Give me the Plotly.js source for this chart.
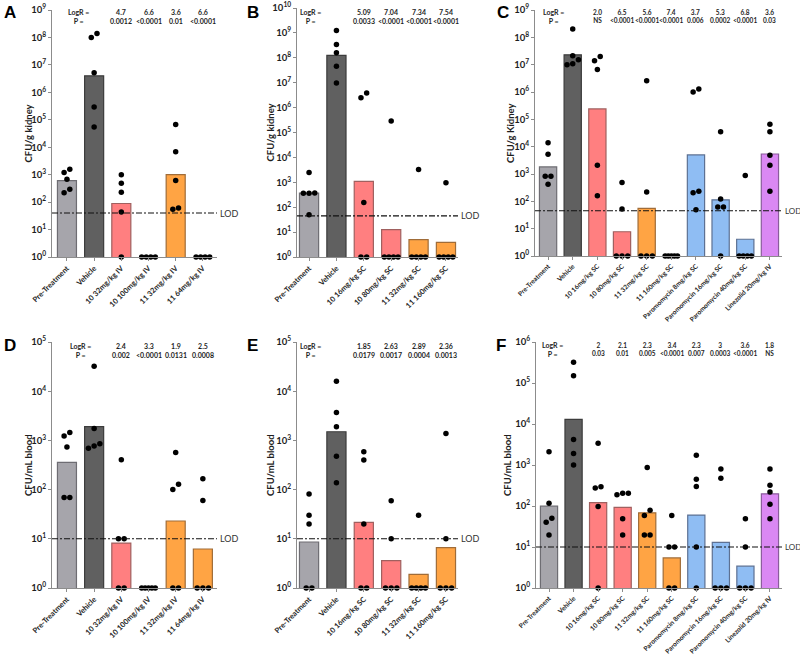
<!DOCTYPE html>
<html><head><meta charset="utf-8">
<script src="https://cdn.plot.ly/plotly-3.0.1.min.js"></script>
<style>html,body{margin:0;padding:0;background:#fff}#chart{width:800px;height:660px}</style>
</head><body><div id="chart"></div>
<script>
// ---------- DATA ----------
const catsA = ['Pre-Treatment','Vehicle','10 32mg/kg IV','10 100mg/kg IV','11 32mg/kg IV','11 64mg/kg IV'];
const barsA = [610, 4.0e6, 89, 1, 1000, 1];
const ptsA = [[1200,1580,680,220,295],[1.4e8,1.0e8,5.2e6,2.9e5,5.5e4],[1000,490,230,44,1],[1,1,1,1],[6.7e4,6800,610,55,61],[1,1,1,1]];
const logRA = ['','','4.7','6.6','3.6','6.6'];
const pA = ['','','0.0012','<0.0001','0.01','<0.0001'];
const lodA = 40;

const catsB = ['Pre-Treatment','Vehicle','10 16mg/kg SC','10 80mg/kg SC','11 32mg/kg SC','11 160mg/kg SC'];
const barsB = [365, 1.25e8, 1090, 12.5, 5.0, 3.9];
const ptsB = [[2500,360,365,370,50],[1.26e9,3.4e8,1.6e8,4.6e7,9.8e6],[3.9e6,2.5e6,155,1,1],[2.9e5,1,1,1,1],[3300,1,1,1,1],[950,1,1,1,1]];
const logRB = ['','','5.09','7.04','7.34','7.54'];
const pB = ['','','0.0033','<0.0001','<0.0001','<0.0001'];
const lodB = 45;

const catsC = ['Pre-Treatment','Vehicle','10 16mg/kg SC','10 80mg/kg SC','11 32mg/kg SC','11 160mg/kg SC','Paromomycin 8mg/kg SC','Paromomycin 16mg/kg SC','Paromomycin 40mg/kg SC','Linezolid 20mg/kg IV'];
const barsC = [1820, 2.3e7, 2.4e5, 7.7, 55, 1, 5000, 114, 4.1, 5400];
const ptsC = [[1.4e4,5300,830,830,425],[2.0e8,2.1e7,1.5e7,1.07e7,1.0e7],[2.0e7,1.4e7,6.7e6,2100,160],[490,52,1,1,1],[2.6e6,218,1,1,1],[1,1,1,1,1],[1.3e6,1.0e6,235,205,49],[3.5e4,123,62,62,1],[880,1,1,1,1],[6.6e4,3.5e4,4900,2100,235]];
const logRC = ['','','2.0','6.5','5.6','7.4','3.7','5.3','6.8','3.6'];
const pC = ['','','NS','<0.0001','<0.0001','<0.0001','0.006','0.0002','<0.0001','0.03'];
const lodC = 45;

const catsD = ['Pre-Treatment','Vehicle','10 32mg/kg IV','10 100mg/kg IV','11 32mg/kg IV','11 64mg/kg IV'];
const barsD = [357, 1900, 8.2, 1, 23, 6.2];
const ptsD = [[1230,1450,730,69,69],[3.2e4,1750,850,690,770],[405,10,10,1,1],[1,1,1,1,1],[570,128,100,1,1],[166,60,1,1,1]];
const logRD = ['','','2.4','3.3','1.9','2.5'];
const pD = ['','','0.002','<0.0001','0.0131','0.0008'];
const lodD = 10;

const catsE = ['Pre-Treatment','Vehicle','10 16mg/kg SC','10 80mg/kg SC','11 32mg/kg SC','11 160mg/kg SC'];
const barsE = [8.6, 1500, 21.5, 3.6, 1.9, 6.6];
const ptsE = [[81,30,20,1,1],[1.6e4,3700,1900,475,138],[590,400,20,1,1],[59,10,1,1,1],[30,1,1,1,1],[1380,10,1,1,1]];
const logRE = ['','','1.85','2.63','2.89','2.36'];
const pE = ['','','0.0179','0.0017','0.0004','0.0013'];
const lodE = 10;

const catsF = ['Pre-Treatment','Vehicle','10 16mg/kg SC','10 80mg/kg SC','11 32mg/kg SC','11 160mg/kg SC','Paromomycin 8mg/kg SC','Paromomycin 16mg/kg SC','Paromomycin 40mg/kg SC','Linezolid 20mg/kg IV'];
const barsF = [99, 1.3e4, 121, 93, 68, 5.4, 60, 13, 3.4, 198];
const ptsF = [[2100,117,50,40,19.5],[3.2e5,1.5e5,4200,1900,1000],[3400,275,295,97,1],[205,187,205,49,19.5],[870,79,59,19.5,19.5],[59,10,10,1,1],[1730,450,297,10,1],[800,475,1,1,1],[49,10,1,1,1],[800,320,218,110,49]];
const logRF = ['','','2','2.1','2.3','3.4','2.3','3','3.6','1.8'];
const pF = ['','','0.03','0.01','0.005','<0.0001','0.007','0.0003','<0.0001','NS'];
const lodF = 10;

const yTitles = ['CFU/g kidney','CFU/g kidney','CFU/g Kidney','CFU/mL blood','CFU/mL blood','CFU/mL blood'];
const letters = ['A','B','C','D','E','F'];

// ---------- LAYOUT / STYLE ----------
const W = 800, H = 660;
const panels = [
  {cats:catsA, bars:barsA, pts:ptsA, logR:logRA, p:pA, lod:lodA, ymax:9,  x0:52,  x1:217, y0:10,  y1:257, xr:[-0.55,5.52], lx:78,  ay:16,  sf:7,   lf:9, xf:7.5, ty:28,  lt:[10,13]},
  {cats:catsB, bars:barsB, pts:ptsB, logR:logRB, p:pB, lod:lodB, ymax:10, x0:297, x1:458, y0:8,   y1:257, xr:[-0.44,5.44], lx:310, ay:16.5,sf:7,   lf:9, xf:7.5, ty:270, lt:[253,13]},
  {cats:catsC, bars:barsC, pts:ptsC, logR:logRC, p:pC, lod:lodC, ymax:9,  x0:535, x1:782, y0:10,  y1:256, xr:[-0.53,9.49], lx:553, ay:16,  sf:6.5, lf:8, xf:6.6, ty:510, lt:[503,13]},
  {cats:catsD, bars:barsD, pts:ptsD, logR:logRD, p:pD, lod:lodD, ymax:5,  x0:52,  x1:217, y0:342, y1:588, xr:[-0.55,5.52], lx:80,  ay:350, sf:7,   lf:9, xf:7.5, ty:28,  lt:[10,345]},
  {cats:catsE, bars:barsE, pts:ptsE, logR:logRE, p:pE, lod:lodE, ymax:5,  x0:297, x1:458, y0:342, y1:588, xr:[-0.44,5.44], lx:310, ay:350, sf:7,   lf:9, xf:7.5, ty:270, lt:[253,345]},
  {cats:catsF, bars:barsF, pts:ptsF, logR:logRF, p:pF, lod:lodF, ymax:6,  x0:536, x1:782, y0:342, y1:588, xr:[-0.53,9.49], lx:552, ay:349, sf:6.5, lf:8, xf:6.6, ty:507, lt:[501,345]}
];

const COLORS = {
  pre:['#a6a5ab','#6e6d73'], veh:['#606060','#3c3c3c'], c10:['#ff7f80','#a0605f'],
  c11:['#ffa444','#a06c38'], par:['#8fbdf3','#5d7193'], lin:['#da88f3','#8a5c9c']
};
function groupOf(c){
  if(c==='Pre-Treatment') return 'pre';
  if(c==='Vehicle') return 'veh';
  if(c.startsWith('10 ')) return 'c10';
  if(c.startsWith('11 ')) return 'c11';
  if(c.startsWith('Paromomycin')) return 'par';
  return 'lin';
}

function swarm(vals, pxDec, pxCat){
  const DOT = 5.7, THR = 6, MAXSPAN = 0.5*pxCat;
  const items = vals.map(v=>({v:v, l:Math.log10(v)})).sort((a,b)=>a.l-b.l);
  const out = []; let row = [];
  const flush = ()=>{
    const n = row.length;
    const s = n>1 ? Math.min(DOT, MAXSPAN/(n-1)) : 0;
    row.forEach((it,k)=>out.push({v:it.v, dx:(k-(n-1)/2)*s/pxCat}));
    row = [];
  };
  items.forEach(it=>{
    if(row.length && (it.l-row[0].l)*pxDec > THR) flush();
    row.push(it);
  });
  flush();
  return out;
}

const FONT = 'Lato, "Open Sans", "DejaVu Sans", sans-serif';
const TXT = '#1e1e1e';
const traces = [];
const layout = {
  width:W, height:H, margin:{l:0,r:0,t:0,b:0}, showlegend:false,
  paper_bgcolor:'#fff', plot_bgcolor:'rgba(0,0,0,0)',
  font:{family:FONT, color:TXT}, annotations:[]
};

panels.forEach((p,i)=>{
  const k = i===0 ? '' : String(i+1);
  const xa = 'x'+k, ya = 'y'+k;
  const pxDec = (p.y1-p.y0)/p.ymax;
  const pxCat = (p.x1-p.x0)/(p.xr[1]-p.xr[0]);
  const idx = p.cats.map((_,j)=>j);
  const tv = [], tt = [];
  for(let e=0;e<=p.ymax;e++){ tv.push(Math.pow(10,e)); tt.push('10<sup>'+e+'</sup>'); }

  layout['xaxis'+k] = {
    domain:[p.x0/W, p.x1/W], range:p.xr, anchor:ya, showline:true, linecolor:'#8c8c8c', linewidth:1,
    ticks:'outside', ticklen:3, tickcolor:'#8c8c8c', tickvals:idx, ticktext:p.cats, tickangle:-45,
    tickfont:{size:p.xf, color:TXT, weight:'bold'}, showgrid:false, zeroline:false, fixedrange:true
  };
  layout['yaxis'+k] = {
    domain:[1-p.y1/H, 1-p.y0/H], type:'log', range:[0,p.ymax], anchor:xa, showline:true,
    linecolor:'#8c8c8c', linewidth:1, ticks:'outside', ticklen:3, tickcolor:'#8c8c8c',
    tickvals:tv, ticktext:tt, tickfont:{size:9.5, color:TXT, weight:'bold'},
    showgrid:false, zeroline:false, fixedrange:true
  };

  const groups = p.cats.map(groupOf);
  traces.push({
    type:'bar', x:idx, y:p.bars.map(v=>v>1?v:null), xaxis:xa, yaxis:ya, width:0.7,
    marker:{color:groups.map(g=>COLORS[g][0]), line:{color:groups.map(g=>COLORS[g][1]), width:1.2}},
    hoverinfo:'skip'
  });

  const px = [], py = [];
  p.pts.forEach((vals,j)=>{
    swarm(vals, pxDec, pxCat).forEach(o=>{ px.push(j+o.dx); py.push(o.v); });
  });
  traces.push({
    type:'scatter', mode:'markers', x:px, y:py, xaxis:xa, yaxis:ya, cliponaxis:false,
    marker:{color:'#000', size:5.5}, hoverinfo:'skip'
  });

  traces.push({
    type:'scatter', mode:'lines', x:[p.xr[0], p.xr[1]], y:[p.lod, p.lod], xaxis:xa, yaxis:ya,
    line:{color:'#111', width:1.1, dash:'6px,2px,2px,2px'}, hoverinfo:'skip'
  });

  layout.annotations.push({xref:'paper', yref:ya, x:(p.x1+1.5)/W, y:Math.log10(p.lod), xanchor:'left', yanchor:'middle',
    text:'LOD', showarrow:false, borderpad:0, font:{size:p.lf, color:'#333'}});

  const rowFont = {size:p.sf, color:TXT, weight:'bold'};
  layout.annotations.push({xref:'paper', yref:'paper', x:p.lx/W, y:1-p.ay/H, text:'LogR =<br>P =', showarrow:false,
    xanchor:'center', yanchor:'middle', align:'center', borderpad:0, font:{size:7, color:TXT, weight:'bold'}});
  p.logR.forEach((t,j)=>{
    if(!t) return;
    layout.annotations.push({xref:xa, yref:'paper', x:j, y:1-p.ay/H, text:t+'<br>'+p.p[j], showarrow:false,
      xanchor:'center', yanchor:'middle', align:'center', borderpad:0, font:rowFont});
  });

  layout.annotations.push({xref:'paper', yref:'paper', x:p.ty/W, y:1-((p.y0+p.y1)/2)/H, text:yTitles[i],
    textangle:-90, showarrow:false, xanchor:'center', yanchor:'middle', font:{size:9.5, color:TXT, weight:'bold'}});

  layout.annotations.push({xref:'paper', yref:'paper', x:p.lt[0]/W, y:1-p.lt[1]/H, text:letters[i], showarrow:false,
    xanchor:'center', yanchor:'middle', font:{family:'"Liberation Sans", Arial, sans-serif', size:17, color:'#000', weight:'bold'}});
});

Plotly.newPlot('chart', traces, layout, {staticPlot:true, displayModeBar:false});
</script>
</body></html>
